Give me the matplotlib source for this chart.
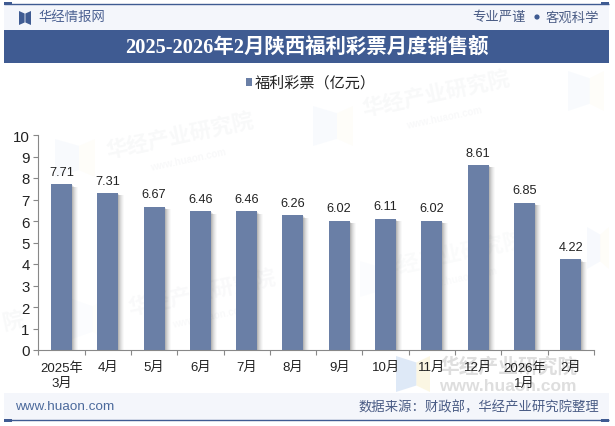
import matplotlib
matplotlib.use("Agg")
import matplotlib.pyplot as plt
from matplotlib.patches import Rectangle, Polygon, Circle
from matplotlib.transforms import ScaledTranslation

SANS = ['Liberation Sans', 'Noto Sans CJK SC']
SERIF = ['Liberation Serif', 'Noto Sans CJK SC']

months = ['2025年\n3月', '4月', '5月', '6月', '7月', '8月', '9月', '10月', '11月', '12月', '2026年\n1月', '2月']
sales = [7.71, 7.31, 6.67, 6.46, 6.46, 6.26, 6.02, 6.11, 6.02, 8.61, 6.85, 4.22]
y_ticks = list(range(0, 11))
title = '2025-2026年2月陕西福利彩票月度销售额'
series_name = '福利彩票（亿元）'
brand = '华经情报网'
slogan_left = '专业严谨'
slogan_right = '客观科学'
site = 'www.huaon.com'
source = '数据来源：财政部，华经产业研究院整理'
wm_cn = '华经产业研究院'
wm_en = 'www.huaon.com'

W, H = 615, 427
NAVY = '#3F5B92'
BAR = '#6A7FA6'
PANEL = '#F4F6FB'
EDGE_L, EDGE_R = 4, 609

fig = plt.figure(figsize=(W / 100, H / 100), dpi=100, facecolor='white')

# Page furniture is laid out in pixel coordinates on a full-figure layer
bg = fig.add_axes([0, 0, 1, 1], zorder=0)
bg.set_xlim(0, W)
bg.set_ylim(H, 0)
bg.axis('off')

# Faint repeated watermark: tilted copies across the page
for x, y, a in [(180, 138, .06), (436, 96, .06), (202, 295, .05), (451, 257, .04)]:
    bg.text(x, y, wm_cn, fontsize=15.5, fontweight='bold', color='#8C94A3', alpha=a, family=SANS,
            rotation=12, ha='center', va='center')
    bg.text(x + 8, y + 22, wm_en, fontsize=7, fontweight='bold', color='#8C94A3', alpha=a, family=SANS,
            rotation=12, ha='center', va='center')
bg.text(13, 323, wm_cn[-1], fontsize=15.5, fontweight='bold', color='#8C94A3', alpha=.06, family=SANS,
        rotation=12, ha='center', va='center')
# The upright copy near the bottom right is stronger
bg.text(509, 367, wm_cn, fontsize=14.2, fontweight='bold', color='#A9A9A9', alpha=.38, family=SANS,
        ha='center', va='center')
bg.text(508, 387, wm_en, fontsize=12.5, fontweight='bold', color='#A9A9A9', alpha=.38, family=SANS,
        ha='center', va='center')

for x, y, w, h, a in [(55, 140, 40, 38, .10), (313, 107, 40, 40, .10), (72, 300, 34, 40, .06),
                      (360, 262, 36, 36, .05), (568, 72, 36, 40, .10), (587, 228, 22, 42, .12),
                      (396, 357, 34, 36, .50)]:
    m = x + w * .6
    bg.add_patch(Polygon([(x, y), (m, y + h * .18), (m, y + h * .82), (x, y + h)], fc='#BFD4F0', ec='none', alpha=a))
    bg.add_patch(Polygon([(m, y + h * .18), (x + w, y), (x + w, y + h), (m, y + h * .82)], fc='#F8EFC8', ec='none', alpha=a))

# Header strip
bg.add_patch(Rectangle((EDGE_L, 5), EDGE_R - EDGE_L, 26, fc=PANEL, ec='none'))
bg.plot([EDGE_L, EDGE_R], [4.8, 4.8], color=NAVY, lw=1.0, solid_capstyle='butt')
for x0 in (EDGE_L, EDGE_R - 8):
    bg.add_patch(Rectangle((x0, 3.4), 8, 2.6, fc=NAVY, ec='none'))
bg.add_patch(Polygon([(19, 12), (24.6, 14.5), (24.6, 23.5), (19, 26)], fc=NAVY, ec='none'))
bg.add_patch(Polygon([(31, 12), (25.4, 14.5), (25.4, 23.5), (31, 26)], fc=NAVY, ec='none'))
bg.text(38.5, 18, brand, fontsize=9.6, color='#4A6091', family=SANS, va='center')
bg.text(526, 18, slogan_left, fontsize=9.6, color='#4A5C85', family=SANS, va='center', ha='right')
bg.add_patch(Circle((537, 18), 2.6, fc=NAVY, ec='none'))
bg.text(546, 18, slogan_right, fontsize=9.6, color='#4A5C85', family=SANS, va='center', ha='left')

# Title band
bg.add_patch(Rectangle((EDGE_L, 31), EDGE_R - EDGE_L, 33, fc=NAVY, ec='none'))
bg.text(307, 47.5, title, fontsize=14.7, fontweight='bold', color='white', family=SERIF, ha='center', va='center')

# Footer strip
bg.add_patch(Rectangle((EDGE_L, 394), EDGE_R - EDGE_L, 27, fc=PANEL, ec='none'))
bg.plot([EDGE_L, EDGE_R], [421, 421], color=NAVY, lw=1.0, solid_capstyle='butt')
for x0 in (EDGE_L, EDGE_R - 8):
    bg.add_patch(Rectangle((x0, 420), 8, 2.6, fc=NAVY, ec='none'))
bg.text(15.5, 407.5, site, fontsize=9.7, color='#4C6A9C', family=SANS, va='center')
bg.text(599, 407.5, source, fontsize=9.6, color='#4A5C85', family=SANS, va='center', ha='right')

# Legend
bg.add_patch(Rectangle((246, 79), 6, 7.5, fc=BAR, ec='none'))
bg.text(255, 83, series_name, fontsize=10.9, color='#222222', family=SANS, va='center')

# Bar chart
left, right, top, bottom = 38.4, 593.8, 136.0, 351.0
ax = fig.add_axes([left / W, 1 - bottom / H, (right - left) / W, (bottom - top) / H], zorder=1)
ax.patch.set_alpha(0)
xs = list(range(len(sales)))

# Soft shadow to the lower right of each bar: stacked translucent copies, widest first
px = 1 / ((right - left) / len(sales))
bar_w = 21 * px
for off, al in [(6, .035), (5, .05), (4, .07), (3, .09), (2, .12), (1, .15)]:
    shift = ScaledTranslation(off / 100, -min(off, 2.5) / 100, fig.dpi_scale_trans)
    ax.bar(xs, sales, width=bar_w, color='#555555', alpha=al, lw=0, zorder=1,
           transform=ax.transData + shift)
ax.bar(xs, sales, width=bar_w, color=BAR, lw=0, zorder=2)

for x, v in zip(xs, sales):
    ax.annotate(f'{v:.2f}', (x, v), xytext=(0, 4.5), textcoords='offset points', ha='center', va='bottom',
                fontsize=9.2, color='#222222', family=SANS, zorder=3)

ax.set_xlim(-0.5, len(sales) - 0.5)
ax.set_ylim(0, 10)
ax.set_yticks(y_ticks)
ax.set_xticks([i - 0.5 for i in range(len(sales) + 1)])
ax.set_xticklabels([])
ax.set_xticks(xs, minor=True)
ax.set_xticklabels(months, minor=True, fontsize=9.5, color='#222222', family=SANS, linespacing=1.32)
ax.tick_params(axis='x', which='major', length=3.4, width=0.8, color='#888888')
ax.tick_params(axis='x', which='minor', length=0, pad=8)
ax.tick_params(axis='y', length=3.4, width=0.8, color='#888888', pad=3, labelsize=10.8, labelcolor='#222222')
for lab in ax.get_yticklabels():
    lab.set_family(SANS)
for s in ('top', 'right'):
    ax.spines[s].set_visible(False)
for s in ('left', 'bottom'):
    ax.spines[s].set_color('#888888')
    ax.spines[s].set_linewidth(0.8)

fig.savefig('out.png', dpi=100)
